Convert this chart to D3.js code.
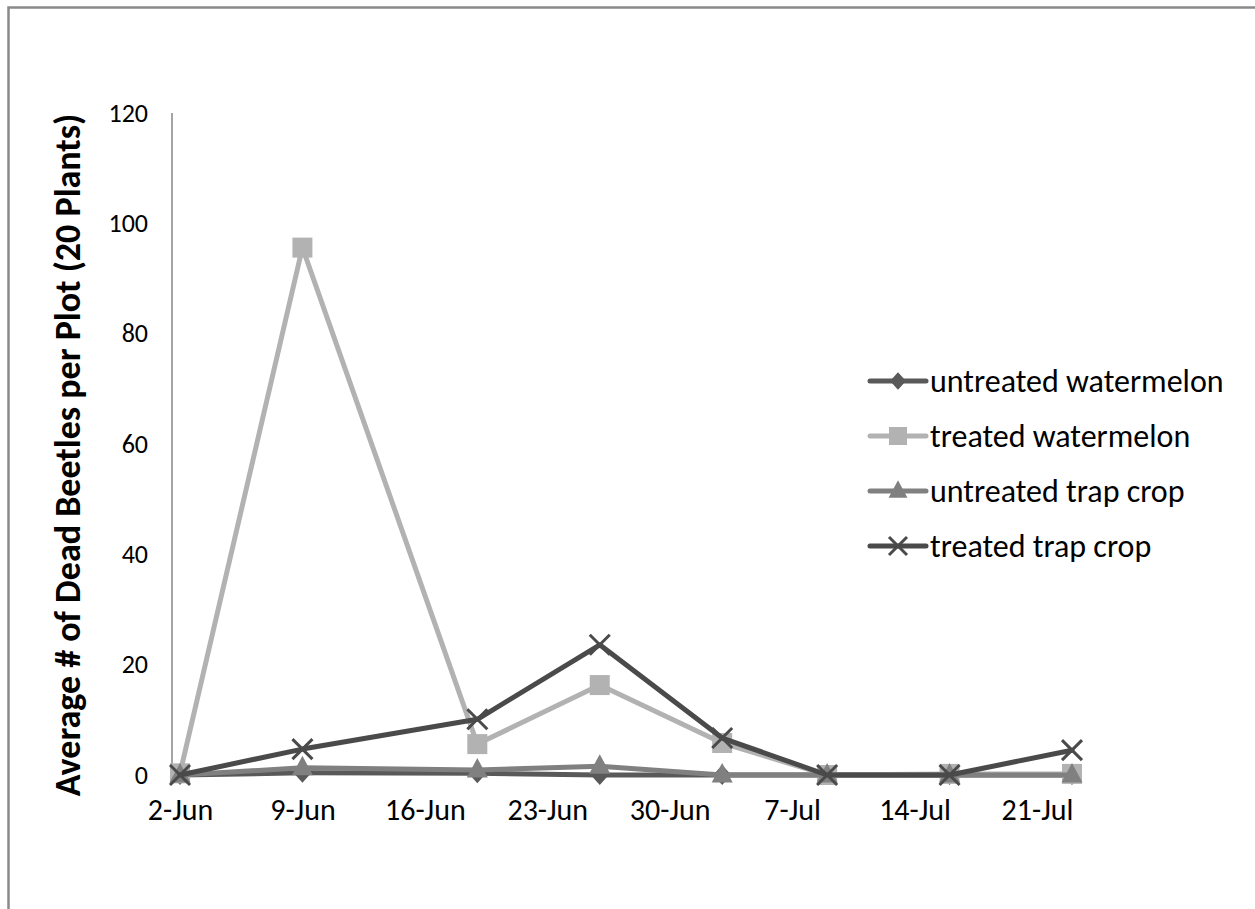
<!DOCTYPE html>
<html>
<head>
<meta charset="utf-8">
<script src="https://cdn.jsdelivr.net/npm/d3@7"></script>
<style>
  html, body { margin: 0; padding: 0; background: #fff; }
  svg { display: block; }
  text { font-family: Carlito, Calibri, "Open Sans", "Noto Sans", sans-serif; fill: #000; }
</style>
</head>
<body>
<svg id="chart" width="1255" height="909"></svg>
<script>
// ---- data ----
const dates = ["2011-06-02", "2011-06-09", "2011-06-19", "2011-06-26", "2011-07-03", "2011-07-09", "2011-07-16", "2011-07-23"];
const untreatedWatermelon = [0, 0.4, 0.3, 0, 0, 0, 0, 0];
const treatedWatermelon   = [0.3, 95.6, 5.6, 16.3, 5.8, 0, 0.2, 0.2];
const untreatedTrapCrop   = [0, 1.3, 0.9, 1.6, 0, 0, 0, 0];
const treatedTrapCrop     = [0, 4.7, 10.1, 23.6, 6.7, 0, 0, 4.5];
const seriesNames = ["untreated watermelon", "treated watermelon", "untreated trap crop", "treated trap crop"];
const tickDates = ["2011-06-02", "2011-06-09", "2011-06-16", "2011-06-23", "2011-06-30", "2011-07-07", "2011-07-14", "2011-07-21"];
const yTicks = [0, 20, 40, 60, 80, 100, 120];
const yTitle = "Average # of Dead Beetles per Plot (20 Plants)";

const parse = d3.timeParse("%Y-%m-%d");
const fmt = d3.timeFormat("%-d-%b");

const series = [
  { name: seriesNames[0], values: untreatedWatermelon, color: "#595959", symbol: "diamond" },
  { name: seriesNames[1], values: treatedWatermelon,   color: "#b2b2b2", symbol: "square" },
  { name: seriesNames[2], values: untreatedTrapCrop,   color: "#808080", symbol: "triangle" },
  { name: seriesNames[3], values: treatedTrapCrop,     color: "#4a4a4a", symbol: "x" }
];

const svg = d3.select("#chart");

// outer frame
svg.append("rect")
  .attr("x", 8.5).attr("y", 7.5).attr("width", 1300).attr("height", 950)
  .attr("fill", "none").attr("stroke", "#8a8a8a").attr("stroke-width", 2.5);

const x = d3.scaleTime()
  .domain([parse(tickDates[0]), parse(tickDates[tickDates.length - 1])])
  .range([180, 1037]);
const y = d3.scaleLinear().domain([0, 120]).range([775, 113]);

const axisX = x.range()[0] - 8;

// y axis line
svg.append("line")
  .attr("x1", axisX).attr("x2", axisX)
  .attr("y1", y(120)).attr("y2", y(0))
  .attr("stroke", "#868686").attr("stroke-width", 1.5);

const tickFont = 'Carlito, Calibri, "Open Sans", "Noto Sans", sans-serif';

// y axis tick labels
const yAxis = d3.axisLeft(y).tickValues(yTicks).tickSize(0).tickPadding(24);
const gy = svg.append("g").attr("transform", `translate(${axisX},0)`).call(yAxis);
gy.select(".domain").remove();
gy.selectAll("text").style("font-family", tickFont).style("font-size", "26px").attr("fill", "#000");

// x axis tick labels
const xAxis = d3.axisBottom(x).tickValues(tickDates.map(parse)).tickFormat(fmt).tickSize(0).tickPadding(24);
const gx = svg.append("g").attr("transform", `translate(0,${y(0)})`).call(xAxis);
gx.select(".domain").remove();
gx.selectAll("text").style("font-family", tickFont).style("font-size", "30px").attr("fill", "#000");

// y title
svg.append("text")
  .attr("transform", `translate(80,455) rotate(-90)`)
  .attr("text-anchor", "middle")
  .style("font-size", "36px").style("font-weight", "bold")
  .text(yTitle);

function symbolPath(kind, s) {
  if (kind === "x") return `M${-s},${-s}L${s},${s}M${-s},${s}L${s},${-s}`;
  if (kind === "diamond") return `M0,${-s * 1.1}L${s},0L0,${s * 1.1}L${-s},0Z`;
  if (kind === "square") return `M${-s},${-s}H${s}V${s}H${-s}Z`;
  // triangle
  return `M0,${-s * 1.2}L${s * 1.05},${s * 0.75}L${-s * 1.05},${s * 0.75}Z`;
}
const markerSize = { x: 10, diamond: 9, square: 10, triangle: 10 };

const line = d3.line().x(d => x(d.date)).y(d => y(d.value));

series.forEach(s => {
  const pts = s.values.map((v, i) => ({ date: parse(dates[i]), value: v }));
  const g = svg.append("g");
  g.append("path").datum(pts)
    .attr("d", line).attr("fill", "none")
    .attr("stroke", s.color).attr("stroke-width", 5)
    .attr("stroke-linejoin", "round").attr("stroke-linecap", "round");
  g.selectAll("path.m").data(pts).join("path")
    .attr("class", "m")
    .attr("transform", d => `translate(${x(d.date)},${y(d.value)})`)
    .attr("d", symbolPath(s.symbol, markerSize[s.symbol]))
    .attr("fill", s.symbol === "x" ? "none" : s.color)
    .attr("stroke", s.symbol === "x" ? s.color : "none")
    .attr("stroke-width", 3);
});

// legend
const legX = 868, legY0 = 381, legDy = 55;
series.forEach((s, i) => {
  const g = svg.append("g").attr("transform", `translate(${legX},${legY0 + i * legDy})`);
  g.append("line").attr("x1", 2).attr("x2", 58).attr("y1", 0).attr("y2", 0)
    .attr("stroke", s.color).attr("stroke-width", 5).attr("stroke-linecap", "round");
  g.append("path")
    .attr("transform", "translate(30,0)")
    .attr("d", symbolPath(s.symbol, markerSize[s.symbol] - 1))
    .attr("fill", s.symbol === "x" ? "none" : s.color)
    .attr("stroke", s.symbol === "x" ? s.color : "none")
    .attr("stroke-width", 3);
  g.append("text").attr("x", 62).attr("y", 0).attr("dy", "0.35em")
    .style("font-size", "32px").text(s.name);
});
</script>
</body>
</html>
